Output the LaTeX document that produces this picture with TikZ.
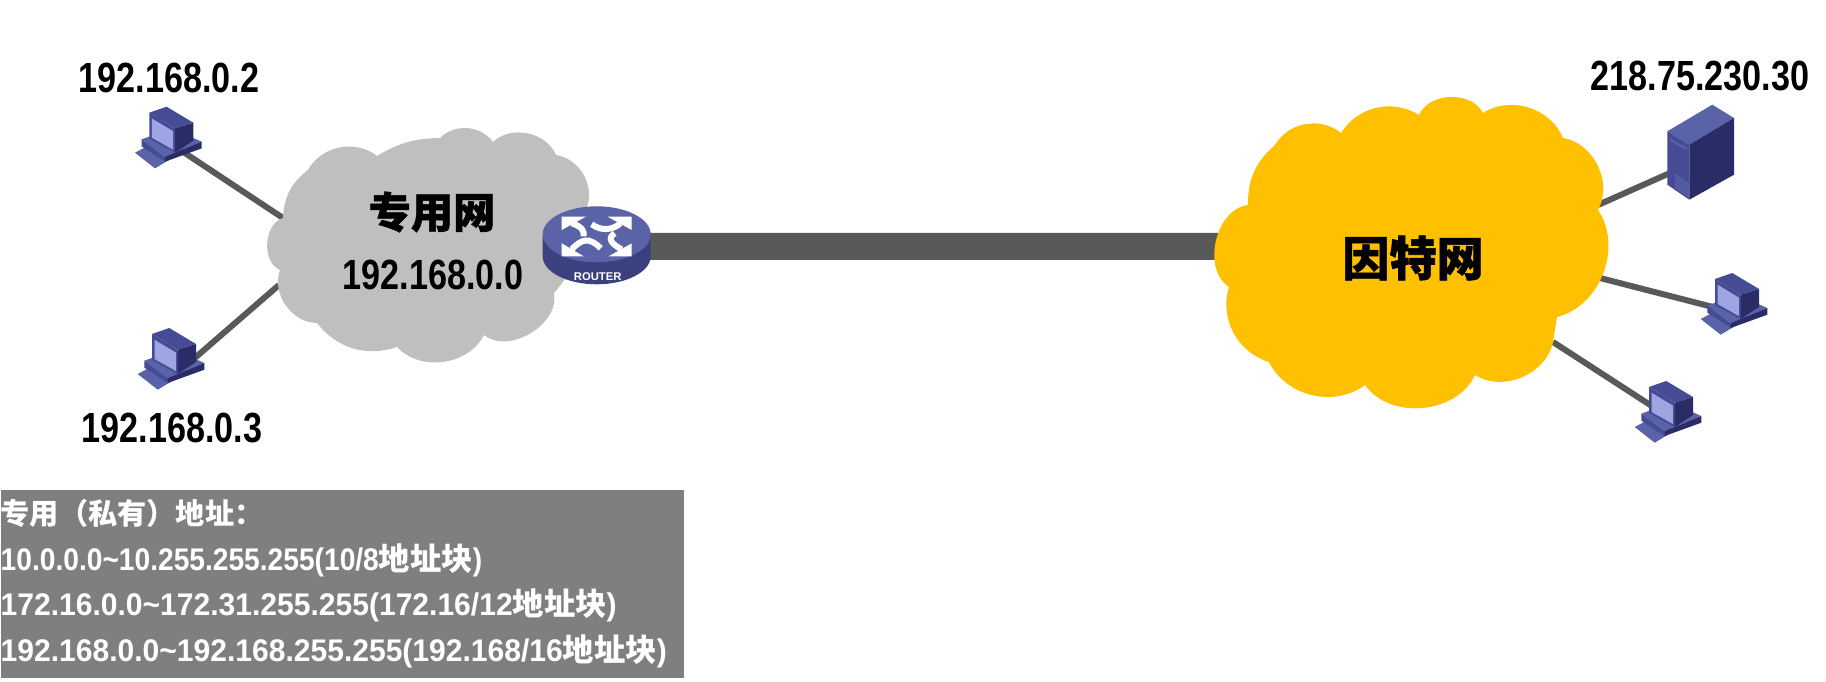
\documentclass[tikz,border=0pt]{standalone}
\usepackage{fontspec}
\setmainfont{Liberation Sans}
\newfontfamily\latinface[FakeStretch=0.81]{Liberation Sans}
\newfontfamily\boxface[FakeStretch=0.90]{Liberation Sans}
\newfontfamily\wideface[FakeStretch=0.96]{Liberation Sans}
\newfontfamily\cjk{Noto Sans CJK SC}
\newfontfamily\cjkheavy[BoldFeatures={FakeBold=1.2}]{Noto Sans CJK SC}
\newcommand{\hanzi}[1]{{\cjk\bfseries #1}}
\newcommand{\hanziheavy}[1]{{\cjkheavy\bfseries #1}}
\usepackage{tikz}
\usetikzlibrary{backgrounds}
\definecolor{netgray}{HTML}{BFBFBF}
\definecolor{netgold}{HTML}{FFC000}
\definecolor{linkgray}{HTML}{595959}
\definecolor{boxgray}{HTML}{7F7F7F}
\definecolor{iconmid}{HTML}{454B94}
\definecolor{iconlight}{HTML}{5A62A8}
\definecolor{icondark}{HTML}{2A2C68}
\definecolor{iconscreen}{HTML}{9EA5E2}
\tikzset{
    link/.style={draw=linkgray,line width=0.6mm},
    trunk/.style={draw=linkgray,line width=2.7mm},
    iplabel/.style={inner sep=0pt,font=\latinface\bfseries\fontsize{12}{14}\selectfont},
    netlabel/.style={inner sep=0pt,font=\bfseries\fontsize{12}{14}\selectfont},
    hostpc/.pic={
        \fill[iconlight] (-33.3,16) -- (-23.3,10.7) -- (1.7,22.7) -- (-13.3,31.7) -- cycle;
        \fill[iconlight] (-26.7,2.7) -- (3.3,-8.3) -- (33.3,5) -- (-3.3,20) -- cycle;
        \fill[iconmid] (-26.7,2.7) -- (-3.3,20) -- (-3.3,25) -- (-26.7,9.7) -- cycle;
        \fill[icondark] (-3.3,20) -- (33.3,5) -- (33.3,11.7) -- (-3.3,25) -- cycle;
        \fill[iconmid] (-19,-24) -- (-1.7,-30) -- (25,-14) -- (6.7,-8.3) -- cycle;
        \fill[iconmid] (-19,-24) -- (6.7,-8.3) -- (6.7,16) -- (-19,2) -- cycle;
        \fill[icondark] (6.7,-8.3) -- (25,-14) -- (25,4) -- (6.7,16) -- cycle;
        \fill[iconscreen] (-16.5,-18.3) -- (4.8,-5.5) -- (4.8,13) -- (-16.5,1) -- cycle;
        \coordinate (-port) at (10,12);
    },
    serverbox/.pic={
        \fill[iconlight] (-32.7,-21.7) -- (12.3,-48.3) -- (34,-35) -- (-10.7,-8.3) -- cycle;
        \fill[iconmid] (-32.7,-21.7) -- (-10.7,-8.3) -- (-10.7,46.7) -- (-32.7,31.7) -- cycle;
        \fill[icondark] (-10.7,-8.3) -- (34,-35) -- (34,21.7) -- (-10.7,46.7) -- cycle;
        \draw[iconlight,line width=0.2mm] (-30,-13.3) -- (-13.3,-4);
        \foreach \y in {0,3,...,12}
            \draw[iconlight,line width=0.15mm] (-25,21.7+\y) -- (-10.7,31.7+\y);
        \coordinate (-port) at (-30,20);
    },
    routerdisk/.pic={
        \fill[iconmid!85!black] (-54,0) -- (-54,22) arc[start angle=180,end angle=0,x radius=54,y radius=28] -- (54,0) -- cycle;
        \fill[iconlight] (0,0) ellipse[x radius=54,y radius=28];
        \fill[white] (-35,-17.7) -- (-10.7,-17.7) -- (-35,-4.3) -- cycle;
        \fill[white] (35,-17.7) -- (10.7,-17.7) -- (35,-4.3) -- cycle;
        \fill[white] (-35,22) -- (-35,9) -- (-13,22) -- cycle;
        \fill[white] (35,22) -- (35,9) -- (12,22) -- cycle;
        \draw[white,line width=0.6mm] (-25,-11) .. controls (-15,-8) and (-12,-3) .. (-13,2);
        \draw[white,line width=0.6mm] (-5,-10) .. controls (5,-3) and (15,-4) .. (24,-11);
        \draw[white,line width=0.6mm] (-25,15) .. controls (-15,5) and (-8,2) .. (4,14);
        \draw[white,line width=0.6mm] (25,15) .. controls (15,10) and (10,4) .. (18,-1);
        \node (-tag) [inner sep=0pt,text=white,font=\bfseries\fontsize{3.2}{4}\selectfont] at (1,42.5) {ROUTER};
        \coordinate (-port) at (0,12);
    }
}
\begin{document}
\begin{tikzpicture}[x=0.01cm,y=-0.01cm]
    \useasboundingbox (0,0) rectangle (1826,682);
    \pic (pc1) at (168.3,136.7) {hostpc};
    \pic (pc2) at (171,358) {hostpc};
    \pic (pc3) at (1734,303) {hostpc};
    \pic (pc4) at (1668,411) {hostpc};
    \pic (srv) at (1700,153) {serverbox};
    \pic (rt) at (596.7,234.3) {routerdisk};
    \coordinate (priv-a) at (283,218);
    \coordinate (priv-b) at (279,285);
    \coordinate (inet-w) at (1260,246.5);
    \coordinate (inet-a) at (1598,205);
    \coordinate (inet-b) at (1600,278);
    \coordinate (inet-c) at (1553,342);
    \node (privname) [netlabel] at (432,212) {\hanziheavy{专用网}};
    \node (privip) [iplabel] at (433,275) {192.168.0.0};
    \node (inetname) [netlabel,font=\bfseries\fontsize{13.4}{16}\selectfont] at (1413,258) {\hanziheavy{因特网}};
    \node (ip1) [iplabel] at (169,78) {192.168.0.2};
    \node (ip2) [iplabel] at (172,428) {192.168.0.3};
    \node (ipsrv) [iplabel] at (1700,76) {218.75.230.30};
    \node (addrbox) [fill=boxgray,text=white,anchor=north west,inner sep=0pt,minimum height=1.88cm,text width=6.83cm,align=left,
        font=\boxface\bfseries\fontsize{8.9}{13}\selectfont] at (0,489) {{\fontsize{8.3}{13}\selectfont\hanzi{专用（私有）地址：}}\\
        10.0.0.0\textasciitilde10.255.255.255(10/8\hanzi{地址块})\\
        {\wideface 172.16.0.0\textasciitilde172.31.255.255(172.16/12}\hanzi{地址块}{\wideface )}\\
        {\wideface 192.168.0.0\textasciitilde192.168.255.255(192.168/16}\hanzi{地址块}{\wideface )}};
    \begin{scope}[on background layer]
        \draw[trunk] (rt-port) -- (inet-w);
        \draw[link] (pc1-port) -- (priv-a);
        \draw[link] (pc2-port) -- (priv-b);
        \draw[link] (srv-port) -- (inet-a);
        \draw[link] (pc3-port) -- (inet-b);
        \draw[link] (pc4-port) -- (inet-c);
        \fill[netgray] (283,218) to[bend left=25] (308,170) to[bend left=50] (377,156) to[bend left=15] (440,138)
            to[bend left=50] (493,142) to[bend left=55] (556,155) to[bend left=50] (587,207)
            to[bend left=20] (554,293) to[bend left=70] (484,335) to[bend left=55] (397,347)
            to[bend left=35] (317,323) to[bend left=55] (280,270) to[bend left=70] (283,218);
        \fill[netgold] (1229,287) to[bend left=70] (1248,205) to[bend left=25] (1275,145) to[bend left=50] (1341,133)
            to[bend left=45] (1419,115) to[bend left=65] (1483,113) to[bend left=50] (1563,138)
            to[bend left=55] (1598,210) to[bend left=55] (1557,317) -- (1553,342)
            to[bend left=55] (1475,375) to[bend left=60] (1365,385) to[bend left=50] (1269,362)
            to[bend left=45] (1229,287);
    \end{scope}
\end{tikzpicture}
\end{document}
